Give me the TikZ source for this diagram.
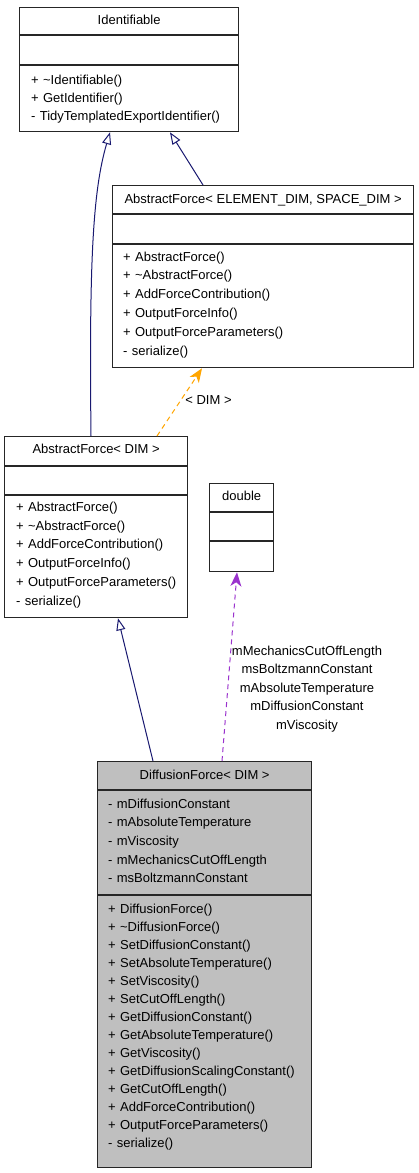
\documentclass[tikz,border=0pt]{standalone}
\usepackage{fontspec}
\setmainfont{Liberation Sans}
\usepackage{tikz}
\usetikzlibrary{
	arrows.meta,
	positioning,
	calc
}
\definecolor{inherit}{RGB}{25,25,112}
\definecolor{templ}{RGB}{255,165,0}
\definecolor{usage}{RGB}{154,50,205}
\definecolor{grayfill}{RGB}{191,191,191}
\tikzset{
  % box
	clsbox/.style     ={draw=black!85,line width=1.3pt,anchor=north west,inner sep=0pt},
	clsboxg/.style    ={clsbox,fill=grayfill},
	clsline/.style    ={draw=black!85,line width=1.3pt},
  % text
	clstitle/.style   ={anchor=base,inner sep=0pt,font=\fontsize{13}{18.5}\selectfont},
	clsmember/.style  ={anchor=base west,inner sep=0pt,align=left,text width=200pt,font=\fontsize{13}{18.5}\selectfont},
	clslabel/.style   ={inner sep=0pt,align=center,font=\fontsize{13}{18.5}\selectfont},
  % arrow
	clsinh/.style     ={inherit,line width=1pt,-{Triangle[open,length=12pt,width=9pt,fill=white]}},
	clstpl/.style     ={templ,line width=1pt,dash pattern=on 5pt off 4pt,-{Stealth[length=14pt,width=11pt,inset=4pt]}},
	clsuse/.style     ={usage,line width=1pt,dash pattern=on 5pt off 4pt,-{Stealth[length=14pt,width=11pt,inset=4pt]}}
}

\begin{document}
\begin{tikzpicture}[x=1pt,y=-1pt]
	\useasboundingbox (0,0) rectangle (419,1173);
	% Identifiable
	\node[clsbox,minimum width=219,minimum height=124] (ident) at (19,7) {};
	\draw[clsline] (ident.west |- 0,35) -- (ident.east |- 0,35);
	\draw[clsline] (ident.west |- 0,65) -- (ident.east |- 0,65);
	\node[clstitle] (identt) at (ident.north |- 0,24.5) {Identifiable};
	\node[clsmember,font=\fontsize{13}{18}\selectfont] (identm) at (31,84.5)
		{+ \textasciitilde Identifiable()\\+ GetIdentifier()\\- TidyTemplatedExportIdentifier()};
	% AbstractForce< ELEMENT_DIM, SPACE_DIM >
	\node[clsbox,minimum width=301,minimum height=182] (afes) at (112,185) {};
	\draw[clsline] (afes.west |- 0,214) -- (afes.east |- 0,214);
	\draw[clsline] (afes.west |- 0,244) -- (afes.east |- 0,244);
	\node[clstitle] (afest) at (afes.north |- 0,203.5) {AbstractForce< ELEMENT\_DIM, SPACE\_DIM >};
	\node[clsmember,font=\fontsize{13}{18.8}\selectfont] (afesm) at (123,261)
		{+ AbstractForce()\\+ \textasciitilde AbstractForce()\\+ AddForceContribution()\\+ OutputForceInfo()\\+ OutputForceParameters()\\- serialize()};
	% AbstractForce< DIM >
	\node[clsbox,minimum width=183,minimum height=181] (afdim) at (4,436) {};
	\draw[clsline] (afdim.west |- 0,466) -- (afdim.east |- 0,466);
	\draw[clsline] (afdim.west |- 0,495) -- (afdim.east |- 0,495);
	\node[clstitle] (afdimt) at (afdim.north |- 0,453.5) {AbstractForce< DIM >};
	\node[clsmember,font=\fontsize{13}{18.7}\selectfont] (afdimm) at (16,511.5)
		{+ AbstractForce()\\+ \textasciitilde AbstractForce()\\+ AddForceContribution()\\+ OutputForceInfo()\\+ OutputForceParameters()\\- serialize()};
	% double
	\node[clsbox,minimum width=64,minimum height=88] (dbl) at (209,483) {};
	\draw[clsline] (dbl.west |- 0,512) -- (dbl.east |- 0,512);
	\draw[clsline] (dbl.west |- 0,541) -- (dbl.east |- 0,541);
	\node[clstitle] (dblt) at (dbl.north |- 0,500) {double};
	% DiffusionForce< DIM >
	\node[clsboxg,minimum width=214,minimum height=406] (dfor) at (97,761) {};
	\draw[clsline] (dfor.west |- 0,790) -- (dfor.east |- 0,790);
	\draw[clsline] (dfor.west |- 0,895) -- (dfor.east |- 0,895);
	\node[clstitle] (dfort) at (dfor.north |- 0,779) {DiffusionForce< DIM >};
	\node[clsmember,font=\fontsize{13}{18.7}\selectfont] (dfora) at (108,808)
		{- mDiffusionConstant\\- mAbsoluteTemperature\\- mViscosity\\- mMechanicsCutOffLength\\- msBoltzmannConstant};
	\node[clsmember,font=\fontsize{13}{18}\selectfont] (dform) at (108,913)
		{+ DiffusionForce()\\+ \textasciitilde DiffusionForce()\\+ SetDiffusionConstant()\\+ SetAbsoluteTemperature()\\+ SetViscosity()\\+ SetCutOffLength()\\+ GetDiffusionConstant()\\+ GetAbsoluteTemperature()\\+ GetViscosity()\\+ GetDiffusionScalingConstant()\\+ GetCutOffLength()\\+ AddForceContribution()\\+ OutputForceParameters()\\- serialize()};
	% edges
	\draw[clsinh] (afdim.north -| 91,0) .. controls (89,260) and (93,190) .. (ident.south -| 110,0);
	\draw[clsinh] (afes.north -| 203,0) -- (ident.south -| 170,0);
	\draw[clstpl] (afdim.north -| 157,0) -- (afes.south -| 202,0);
	\node[clstitle] (tpllbl) at (208.5,404.5) {< DIM >};
	\draw[clsinh] (dfor.north -| 153,0) -- (afdim.south -| 118,0);
	\draw[clsuse] (dfor.north -| 222,0) -- (dbl.south -| 237,0);
	\node[clslabel] (uselbl) at (307,689)
		{mMechanicsCutOffLength\\msBoltzmannConstant\\mAbsoluteTemperature\\mDiffusionConstant\\mViscosity};
\end{tikzpicture}
\end{document}
